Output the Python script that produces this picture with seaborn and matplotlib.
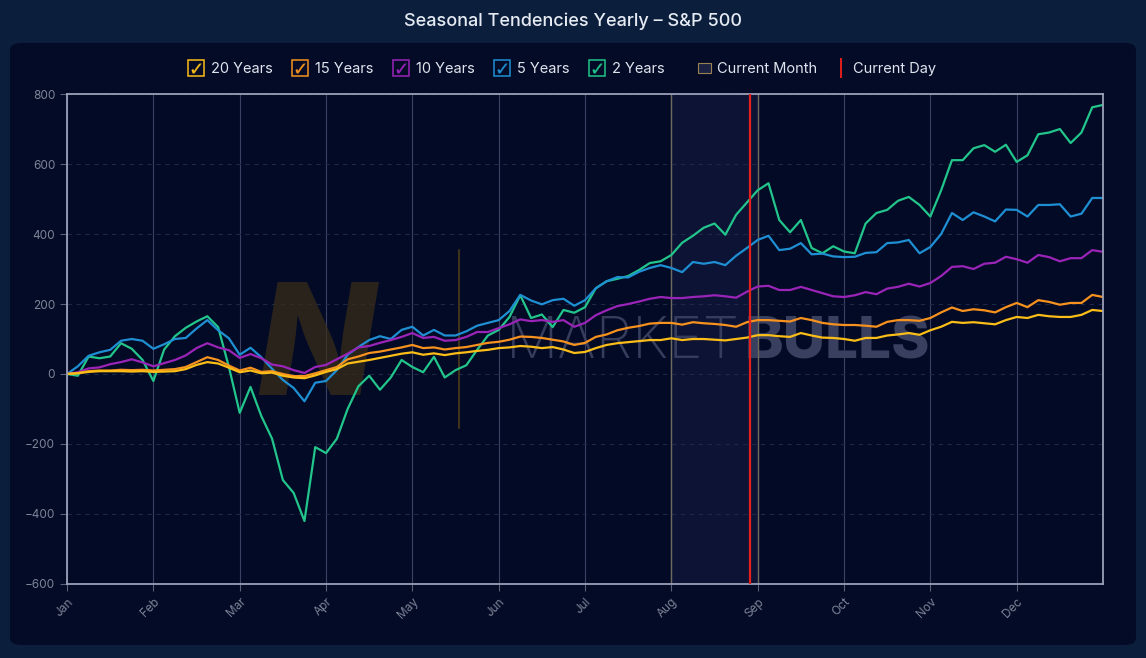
import numpy as np
import pandas as pd
import matplotlib
matplotlib.use('Agg')
import matplotlib.pyplot as plt
import seaborn as sns
from matplotlib.lines import Line2D
from matplotlib.patches import Patch, FancyBboxPatch

MONTHS = ['Jan', 'Feb', 'Mar', 'Apr', 'May', 'Jun', 'Jul', 'Aug', 'Sep', 'Oct', 'Nov', 'Dec']
SERIES_NAMES = ['20 Years', '15 Years', '10 Years', '5 Years', '2 Years']
COLORS = {
    '20 Years': '#fbbd17',
    '15 Years': '#f7921e',
    '10 Years': '#9b24b8',
    '5 Years': '#1f8fd3',
    '2 Years': '#22c58b',
}
POINTS_PER_MONTH = 8
CURRENT_MONTH = 7      # Aug
CURRENT_DAY = 7.91     # late Aug, in months

# cumulative seasonal points, 8 samples per month
years_20 = [
    0, 2, 6, 8, 8, 8, 7, 8,
    6, 7, 8, 14, 26, 34, 30, 18,
    5, 10, 2, 4, -5, -10, -12, -4,
    6, 14, 30, 35, 40, 46, 52, 58,
    62, 55, 59, 54, 59, 62, 66, 69,
    74, 76, 80, 78, 74, 77, 70, 60,
    63, 74, 83, 88, 91, 94, 97, 97,
    102, 97, 100, 100, 98, 96, 100, 104,
    111, 111, 108, 106, 117, 110, 104, 103,
    100, 95, 103, 103, 110, 113, 117, 112,
    125, 135, 149, 146, 148, 145, 142, 154,
    163, 160, 169, 165, 163, 163, 169, 183,
    180,
]
years_15 = [
    0, 3, 8, 10, 10, 12, 11, 12,
    10, 12, 14, 20, 34, 48, 40, 24,
    10, 18, 6, 8, 0, -6, -6, 2,
    11, 20, 42, 50, 60, 64, 70, 76,
    83, 74, 76, 70, 74, 77, 83, 89,
    92, 98, 107, 106, 103, 98, 93, 83,
    89, 106, 113, 125, 132, 137, 144, 146,
    146, 141, 148, 145, 143, 140, 135, 148,
    154, 154, 152, 150, 160, 154, 146, 142,
    140, 140, 138, 135, 149, 154, 154, 152,
    160, 176, 190, 180, 185, 182, 176, 191,
    203, 191, 211, 206, 198, 203, 203, 226,
    220,
]
years_10 = [
    0, 5, 16, 19, 28, 34, 42, 33,
    22, 31, 40, 53, 74, 88, 76, 68,
    46, 57, 45, 27, 22, 11, 3, 20,
    26, 42, 58, 76, 80, 89, 97, 106,
    117, 103, 106, 95, 97, 106, 120, 120,
    131, 142, 156, 151, 154, 149, 154, 135,
    146, 168, 182, 194, 200, 207, 215, 220,
    217, 217, 220, 222, 225, 222, 218, 235,
    250, 252, 240, 240, 249, 240, 231, 222,
    220, 225, 234, 228, 244, 249, 258, 250,
    260, 280, 306, 308, 300, 315, 318, 335,
    328, 318, 340, 334, 322, 331, 331, 354,
    349,
]
years_5 = [
    0, 22, 52, 62, 69, 95, 100, 95,
    72, 85, 100, 103, 130, 154, 125, 102,
    55, 75, 48, 15, -17, -40, -78, -25,
    -20, 11, 55, 77, 97, 108, 100, 126,
    135, 110, 126, 110, 110, 122, 138, 146,
    154, 180, 226, 210, 199, 211, 215, 195,
    211, 245, 265, 277, 276, 292, 303, 311,
    303, 291, 320, 315, 320, 311, 338, 360,
    383, 395, 354, 358, 374, 342, 344, 336,
    334, 335, 346, 348, 374, 376, 383, 345,
    363, 400, 460, 440, 462, 450, 436, 470,
    469, 450, 483, 483, 485, 450, 458, 503,
    503,
]
years_2 = [
    0, -5, 50, 45, 50, 88, 72, 40,
    -20, 70, 108, 132, 150, 165, 134, 20,
    -111, -37, -120, -185, -303, -340, -420, -209,
    -226, -185, -100, -35, -5, -45, -10, 40,
    20, 5, 49, -10, 11, 25, 69, 110,
    126, 163, 225, 160, 170, 134, 183, 175,
    191, 245, 265, 272, 280, 297, 317, 322,
    340, 375, 395, 418, 430, 398, 455, 490,
    525, 545, 440, 405, 440, 360, 345, 365,
    350, 345, 430, 460, 469, 495, 506, 483,
    450, 525, 611, 611, 645, 654, 635, 655,
    606, 625, 685, 690, 700, 660, 690, 762,
    769,
]

series_values = {
    '20 Years': years_20,
    '15 Years': years_15,
    '10 Years': years_10,
    '5 Years': years_5,
    '2 Years': years_2,
}

frames = []
for name, vals in series_values.items():
    frames.append(pd.DataFrame({
        'x': np.arange(len(vals)) / POINTS_PER_MONTH,
        'value': vals,
        'series': name,
    }))
df = pd.concat(frames, ignore_index=True)

sns.set_theme(style='dark')
plt.rcParams['font.family'] = ['Inter', 'DejaVu Sans']

fig = plt.figure(figsize=(11.46, 6.58), dpi=100, facecolor='#0b1f3c')
panel = FancyBboxPatch((0.0087, 0.0198), 0.9825, 0.9149,
                       boxstyle='round,pad=0,rounding_size=0.01',
                       transform=fig.transFigure, facecolor='#040b27',
                       edgecolor='none', zorder=-5)
fig.patches.append(panel)

ax = fig.add_axes([0.0585, 0.1125, 0.904, 0.7446])
ax.set_facecolor('#030a25')

# watermark
ax.text(0.183, 0.385, 'N', transform=ax.transAxes, fontsize=112, fontstyle='italic',
        fontweight='heavy', color='#3a2e18', alpha=0.7, zorder=1)
ax.axvline(4.54, ymin=0.318, ymax=0.682, color='#3f331b', lw=1.5, zorder=1)
ax.text(0.424, 0.461, 'MARKET', transform=ax.transAxes, fontsize=42,
        fontweight='light', color='#363c5c', zorder=1)
ax.text(0.654, 0.461, 'BULLS', transform=ax.transAxes, fontsize=42,
        fontweight='heavy', color='#383f5f', zorder=1)

# current month / day
ax.axvspan(CURRENT_MONTH, CURRENT_MONTH + 1, color='#0d1334', zorder=0.5)
ax.axvline(CURRENT_MONTH, color='#6e6a5e', lw=1.0, zorder=1.5)
ax.axvline(CURRENT_MONTH + 1, color='#6e6a5e', lw=1.0, zorder=1.5)
ax.axvline(CURRENT_DAY, color='#e3201c', lw=1.6, zorder=3)

sns.lineplot(data=df, x='x', y='value', hue='series',
             hue_order=SERIES_NAMES[::-1], palette=COLORS,
             estimator=None, sort=False, lw=1.6, legend=False, ax=ax, zorder=2)

ax.set_xlim(0, 12)
ax.set_ylim(-600, 800)
ax.set_xticks(range(12))
ax.set_xticklabels(MONTHS, rotation=45, ha='right', rotation_mode='anchor')
ax.set_yticks(range(-600, 801, 200))
ax.set_xlabel('')
ax.set_ylabel('')
ax.tick_params(axis='both', colors='#5a6078', labelcolor='#7d8496',
               labelsize=8.5, length=5, width=0.8, bottom=True, left=True)
ax.grid(axis='x', color='#3a4162', lw=0.8)
ax.grid(axis='y', color='#1d2746', lw=0.8, ls=(0, (4, 4)))
for side in ax.spines.values():
    side.set_color('#9aa0b8')
    side.set_linewidth(1.3)

fig.text(0.5, 0.968, 'Seasonal Tendencies Yearly \u2013 S&P 500', ha='center', va='center',
         color='#e6eaf2', fontsize=13, fontweight='medium')

# legend
series_handles = []
for name in SERIES_NAMES:
    box = Line2D([], [], ls='', marker='s', ms=12, mfc='none', mec=COLORS[name], mew=1.1)
    tick = Line2D([], [], ls='', marker='$\u2713$', ms=7, mew=0.2, color=COLORS[name])
    series_handles.append((box, tick))
fig.legend(series_handles, SERIES_NAMES, loc='center', bbox_to_anchor=(0.372, 0.895),
           ncol=5, frameon=False, handlelength=1.1, handletextpad=0.5,
           columnspacing=1.3, fontsize=10.5, labelcolor='#e0e4ee')

marker_handles = [
    Patch(facecolor='#1a2142', edgecolor='#9a8250', lw=0.8),
    Line2D([], [], ls='', marker='|', ms=15, mew=1.4, color='#e3201c'),
]
fig.legend(marker_handles, ['Current Month', 'Current Day'], loc='center',
           bbox_to_anchor=(0.713, 0.895), ncol=2, frameon=False,
           handlelength=0.9, handletextpad=0.4,
           columnspacing=1.2, fontsize=10.5, labelcolor='#e0e4ee')

fig.savefig('out.png', dpi=100, facecolor=fig.get_facecolor())
